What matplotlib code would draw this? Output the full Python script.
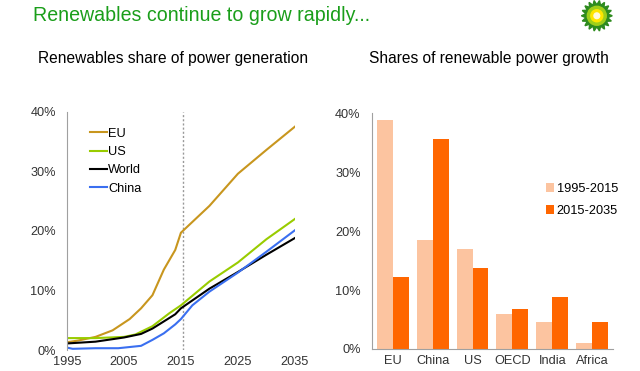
import numpy as np
import matplotlib.pyplot as plt
from matplotlib.patches import Polygon, Circle

plt.rcParams['font.family'] = ['Liberation Sans', 'DejaVu Sans']

# left chart: renewables share of power generation (%)
eu_years = [1995, 1997, 2000, 2003, 2006, 2008, 2010, 2012, 2014, 2015, 2020, 2025, 2030, 2035]
eu_share = [1.3, 1.6, 2.2, 3.3, 5.2, 7.0, 9.2, 13.5, 16.8, 19.7, 24.2, 29.6, 33.6, 37.5]

us_years = [1995, 2000, 2005, 2007, 2010, 2013, 2015, 2020, 2025, 2030, 2035]
us_share = [2.0, 2.0, 2.2, 2.6, 4.0, 6.2, 7.5, 11.5, 14.7, 18.6, 22.0]

world_years = [1995, 2000, 2005, 2008, 2010, 2012, 2014, 2015, 2020, 2025, 2030, 2035]
world_share = [1.1, 1.4, 2.1, 2.7, 3.6, 4.8, 6.0, 7.0, 10.3, 13.1, 16.0, 18.8]

china_years = [1995, 1996, 2000, 2004, 2006, 2008, 2010, 2012, 2014, 2015, 2017, 2020, 2025, 2030, 2035]
china_share = [0.4, 0.2, 0.3, 0.3, 0.5, 0.7, 1.7, 2.8, 4.3, 5.2, 7.5, 9.8, 13.0, 16.5, 20.1]

# right chart: shares of renewable power growth (%)
regions = ['EU', 'China', 'US', 'OECD', 'India', 'Africa']
growth_1995_2015 = [38.9, 18.5, 16.9, 6.0, 4.6, 1.1]
growth_2015_2035 = [12.2, 35.6, 13.7, 6.7, 8.8, 4.6]

fig = plt.figure(figsize=(6.4, 3.71), dpi=100)

fig.text(0.052, 0.957, 'Renewables continue to grow rapidly...', color='#1a9e1a',
         fontsize=14.1, va='center', ha='left')
fig.text(0.059, 0.843, 'Renewables share of power generation', fontsize=11.2,
         va='center', ha='left')
fig.text(0.577, 0.843, 'Shares of renewable power growth', fontsize=11.2,
         va='center', ha='left')

# bp-like logo
lax = fig.add_axes([0.895, 0.915, 0.075, 0.085])
lax.set_xlim(-1, 1)
lax.set_ylim(-1, 1)
lax.set_aspect('equal')
lax.axis('off')
n = 18
ang = np.linspace(0, 2 * np.pi, 2 * n, endpoint=False)
rad = np.where(np.arange(2 * n) % 2 == 0, 0.98, 0.7)
lax.add_patch(Polygon(np.c_[rad * np.cos(ang), rad * np.sin(ang)], color='#2e8b1e'))
lax.add_patch(Circle((0, 0), 0.6, color='#9fcf1a'))
lax.add_patch(Circle((0, 0), 0.38, color='#ffe600'))
lax.add_patch(Circle((0, 0), 0.18, color='#fffbe0'))

tick_color = '#333333'
spine_color = '#a0a0a0'
fs = 9.2

# ---- left chart
ax1 = fig.add_axes([0.1047, 0.0566, 0.356, 0.642])
ax1.axvline(2015.3, color='#999999', linestyle=(0, (1.5, 1.5)), linewidth=1)
ax1.plot(eu_years, eu_share, color='#c8961e', linewidth=1.5, label='EU')
ax1.plot(us_years, us_share, color='#99cc00', linewidth=1.5, label='US')
ax1.plot(world_years, world_share, color='#000000', linewidth=1.5, label='World')
ax1.plot(china_years, china_share, color='#3a6ff0', linewidth=1.5, label='China')
ax1.set_xlim(1995, 2035)
ax1.set_ylim(0, 40)
ax1.set_xticks([1995, 2005, 2015, 2025, 2035])
ax1.set_yticks([0, 10, 20, 30, 40])
ax1.set_yticklabels(['0%', '10%', '20%', '30%', '40%'])
for s in ['top', 'right', 'bottom']:
    ax1.spines[s].set_visible(False)
ax1.spines['left'].set_color(spine_color)
ax1.tick_params(axis='both', length=0, labelsize=fs, colors=tick_color)
ax1.tick_params(axis='y', pad=8)
ax1.tick_params(axis='x', pad=4.5)
ax1.legend(loc='upper left', bbox_to_anchor=(0.08, 0.955), frameon=False,
           handlelength=1.3, handletextpad=0.1, labelspacing=0.5, fontsize=fs,
           borderaxespad=0)

# ---- right chart
ax2 = fig.add_axes([0.581, 0.0593, 0.377, 0.636])
x = np.arange(len(regions))
w = 0.4
ax2.bar(x - w / 2, growth_1995_2015, w, color='#fcc4a0', label='1995-2015')
ax2.bar(x + w / 2, growth_2015_2035, w, color='#ff6600', label='2015-2035')
ax2.set_xlim(-0.52, 5.52)
ax2.set_ylim(0, 40)
ax2.set_xticks(x)
ax2.set_xticklabels(regions)
ax2.set_yticks([0, 10, 20, 30, 40])
ax2.set_yticklabels(['0%', '10%', '20%', '30%', '40%'])
for s in ['top', 'right']:
    ax2.spines[s].set_visible(False)
ax2.spines['left'].set_color(spine_color)
ax2.spines['bottom'].set_color(spine_color)
ax2.tick_params(axis='both', length=0, labelsize=fs, colors=tick_color)
ax2.tick_params(axis='y', pad=8)
ax2.tick_params(axis='x', pad=4.5)
ax2.legend(loc='upper left', bbox_to_anchor=(0.7, 0.725), frameon=False,
           handlelength=0.6, handleheight=0.7, handletextpad=0.25, labelspacing=0.8,
           fontsize=fs, borderaxespad=0)

fig.savefig('out.png', dpi=100)
